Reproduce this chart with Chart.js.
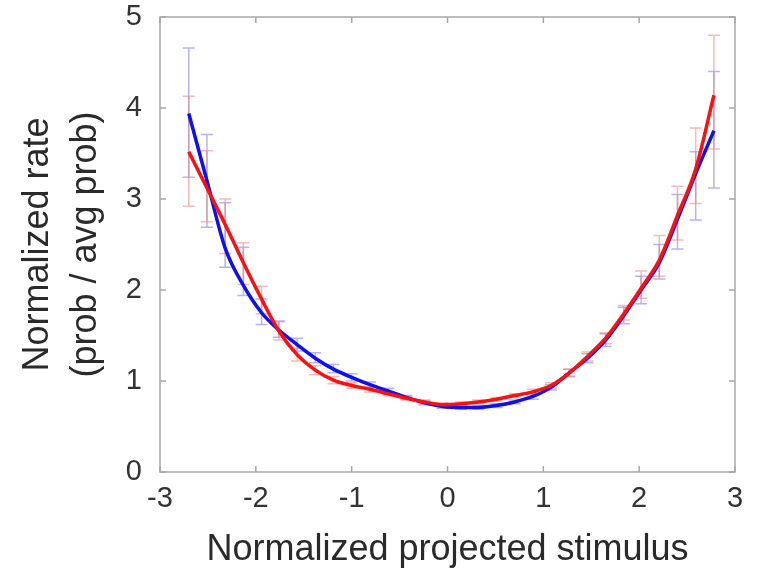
<!DOCTYPE html>
<html>
<head>
<meta charset="utf-8">
<script src="https://cdn.jsdelivr.net/npm/chart.js@4/dist/chart.umd.min.js"></script>
<style>
  html, body { margin: 0; padding: 0; background: #fff; }
  #wrap { width: 759px; height: 572px; }
</style>
</head>
<body>
<div id="wrap"><canvas id="chart" width="759" height="572"></canvas></div>
<script>
// bin centres (normalized projected stimulus)
const binX = [-2.70, -2.51, -2.32, -2.13, -1.94, -1.76, -1.57, -1.38, -1.19, -1.00,
              -0.81, -0.62, -0.43, -0.24, -0.05, 0.14, 0.32, 0.51, 0.70, 0.89,
              1.08, 1.27, 1.46, 1.65, 1.84, 2.02, 2.21, 2.40, 2.59, 2.78];

const blueRate = [3.94, 3.20, 2.46, 2.05, 1.75, 1.56, 1.40, 1.25, 1.13, 1.04,
                  0.96, 0.89, 0.82, 0.76, 0.72, 0.71, 0.71, 0.73, 0.77, 0.83,
                  0.93, 1.09, 1.25, 1.45, 1.72, 2.00, 2.30, 2.78, 3.28, 3.75];
const blueLow  = [3.24, 2.69, 2.25, 1.94, 1.62, 1.48, 1.33, 1.20, 1.09, 1.00,
                  0.93, 0.86, 0.80, 0.74, 0.70, 0.69, 0.69, 0.71, 0.75, 0.80,
                  0.90, 1.05, 1.20, 1.38, 1.63, 1.85, 2.12, 2.45, 2.77, 3.12];
const blueHigh = [4.66, 3.71, 2.96, 2.47, 1.90, 1.66, 1.47, 1.31, 1.18, 1.08,
                  0.99, 0.92, 0.84, 0.78, 0.74, 0.73, 0.73, 0.75, 0.79, 0.86,
                  0.96, 1.13, 1.30, 1.52, 1.81, 2.15, 2.50, 3.05, 3.52, 4.40];

const redRate = [3.52, 3.12, 2.72, 2.30, 1.90, 1.55, 1.29, 1.12, 1.01, 0.95,
                 0.91, 0.86, 0.81, 0.77, 0.74, 0.75, 0.77, 0.80, 0.84, 0.88,
                 0.95, 1.09, 1.27, 1.47, 1.74, 2.02, 2.33, 2.82, 3.33, 4.14];
const redLow  = [2.92, 2.75, 2.40, 2.06, 1.74, 1.45, 1.22, 1.07, 0.97, 0.92,
                 0.88, 0.84, 0.79, 0.75, 0.72, 0.73, 0.75, 0.78, 0.82, 0.85,
                 0.92, 1.05, 1.22, 1.41, 1.67, 1.91, 2.15, 2.55, 2.95, 3.55];
const redHigh = [4.13, 3.53, 3.00, 2.52, 2.04, 1.65, 1.36, 1.17, 1.05, 0.98,
                 0.94, 0.88, 0.83, 0.79, 0.76, 0.77, 0.79, 0.82, 0.86, 0.91,
                 0.98, 1.13, 1.32, 1.53, 1.83, 2.21, 2.60, 3.14, 3.78, 4.80];

const xTicks = [-3, -2, -1, 0, 1, 2, 3];
const yTicks = [0, 1, 2, 3, 4, 5];

const toPoints = (ys) => binX.map((x, i) => ({ x: x, y: ys[i] }));

// error bars + box frame with inward ticks
const framePlugin = {
  id: 'frame',
  beforeDatasetsDraw(chart) {
    const ctx = chart.ctx;
    const xs = chart.scales.x, ys = chart.scales.y;
    const bars = [
      { lo: blueLow, hi: blueHigh, color: 'rgba(120, 120, 230, 0.55)' },
      { lo: redLow, hi: redHigh, color: 'rgba(240, 130, 120, 0.55)' }
    ];
    ctx.save();
    ctx.lineWidth = 1.5;
    bars.forEach(b => {
      ctx.strokeStyle = b.color;
      binX.forEach((x, i) => {
        const px = xs.getPixelForValue(x);
        const top = ys.getPixelForValue(b.hi[i]);
        const bot = ys.getPixelForValue(b.lo[i]);
        ctx.beginPath();
        ctx.moveTo(px, top); ctx.lineTo(px, bot);
        ctx.moveTo(px - 6, top); ctx.lineTo(px + 6, top);
        ctx.moveTo(px - 6, bot); ctx.lineTo(px + 6, bot);
        ctx.stroke();
      });
    });
    ctx.restore();
  },
  afterDraw(chart) {
    const ctx = chart.ctx;
    const a = chart.chartArea;
    const xs = chart.scales.x, ys = chart.scales.y;
    ctx.save();
    ctx.strokeStyle = '#a8a8a8';
    ctx.lineWidth = 1.5;
    ctx.strokeRect(a.left, a.top, a.right - a.left, a.bottom - a.top);
    ctx.beginPath();
    xTicks.forEach(v => {
      const px = xs.getPixelForValue(v);
      ctx.moveTo(px, a.bottom); ctx.lineTo(px, a.bottom - 6);
      ctx.moveTo(px, a.top); ctx.lineTo(px, a.top + 6);
    });
    yTicks.forEach(v => {
      const py = ys.getPixelForValue(v);
      ctx.moveTo(a.left, py); ctx.lineTo(a.left + 6, py);
      ctx.moveTo(a.right, py); ctx.lineTo(a.right - 6, py);
    });
    ctx.stroke();
    ctx.restore();
  }
};

new Chart(document.getElementById('chart'), {
  type: 'line',
  data: {
    datasets: [
      {
        label: 'red',
        data: toPoints(redRate),
        borderColor: '#ff1010',
        borderWidth: 3.5,
        pointRadius: 0,
        tension: 0.4,
        cubicInterpolationMode: 'monotone',
        order: 1
      },
      {
        label: 'blue',
        data: toPoints(blueRate),
        borderColor: '#1010ee',
        borderWidth: 3.5,
        pointRadius: 0,
        tension: 0.4,
        cubicInterpolationMode: 'monotone',
        order: 2
      }
    ]
  },
  options: {
    responsive: false,
    animation: false,
    layout: { padding: { top: 17, right: 24, left: 14, bottom: 0 } },
    plugins: {
      legend: { display: false },
      tooltip: { enabled: false }
    },
    scales: {
      x: {
        type: 'linear',
        min: -3,
        max: 3,
        afterBuildTicks: s => { s.ticks = xTicks.map(v => ({ value: v })); },
        afterFit: s => { s.height = 100; s.paddingLeft = 0; s.paddingRight = 0; },
        grid: { display: false, drawTicks: false },
        border: { display: false },
        ticks: {
          color: '#333',
          font: { family: 'Liberation Sans, Arial, sans-serif', size: 29 },
          padding: 10,
          maxRotation: 0
        },
        title: {
          display: true,
          text: 'Normalized projected stimulus',
          color: '#2a2a2a',
          font: { family: 'Liberation Sans, Arial, sans-serif', size: 36 },
          padding: { top: 8, bottom: 0 }
        }
      },
      y: {
        type: 'linear',
        min: 0,
        max: 5,
        afterBuildTicks: s => { s.ticks = yTicks.map(v => ({ value: v })); },
        afterFit: s => { s.width = 146; s.paddingTop = 0; s.paddingBottom = 0; },
        grid: { display: false, drawTicks: false },
        border: { display: false },
        ticks: {
          color: '#333',
          font: { family: 'Liberation Sans, Arial, sans-serif', size: 29 },
          padding: 18
        },
        title: {
          display: true,
          text: ['Normalized rate', '(prob / avg prob)'],
          color: '#2a2a2a',
          font: { family: 'Liberation Sans, Arial, sans-serif', size: 36, lineHeight: 1.33 },
          padding: { top: 0, bottom: 0 }
        }
      }
    }
  },
  plugins: [framePlugin]
});
</script>
</body>
</html>
